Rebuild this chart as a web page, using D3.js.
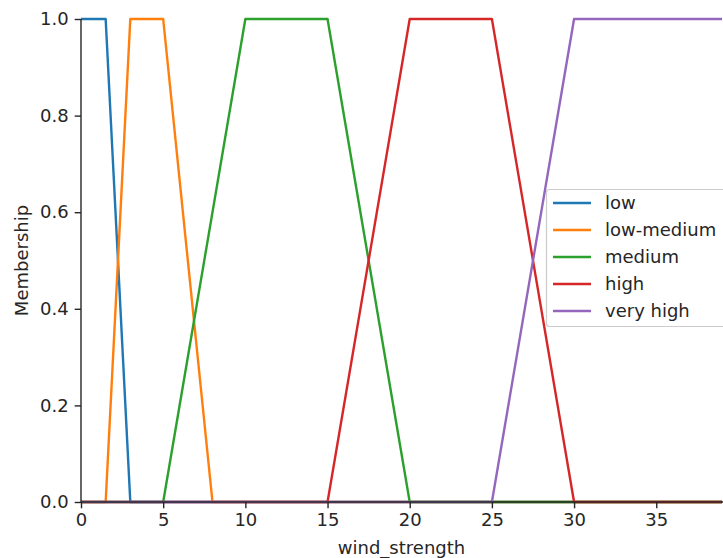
<!DOCTYPE html>
<html>
<head>
<meta charset="utf-8">
<script src="https://cdn.jsdelivr.net/npm/d3@7"></script>
<style>
  html, body { margin: 0; padding: 0; background: #fff; overflow: hidden; }
  text { font-family: "DejaVu Sans", sans-serif; }
</style>
</head>
<body>
<svg id="chart" width="723" height="558"></svg>
<script>
// Fuzzy membership functions for wind strength (breakpoints of each trapezoid)
const categories = ["low", "low-medium", "medium", "high", "very high"];
const colors = ["#1f77b4", "#ff7f0e", "#2ca02c", "#d62728", "#9467bd"];

const lowX = [0, 1.5, 3, 39];
const lowY = [1, 1, 0, 0];
const lowMediumX = [0, 1.5, 3, 5, 8, 39];
const lowMediumY = [0, 0, 1, 1, 0, 0];
const mediumX = [0, 5, 10, 15, 20, 39];
const mediumY = [0, 0, 1, 1, 0, 0];
const highX = [0, 15, 20, 25, 30, 39];
const highY = [0, 0, 1, 1, 0, 0];
const veryHighX = [0, 25, 30, 39];
const veryHighY = [0, 0, 1, 1];

const xTicks = [0, 5, 10, 15, 20, 25, 30, 35];
const yTicks = [0, 0.2, 0.4, 0.6, 0.8, 1.0];

const seriesX = [lowX, lowMediumX, mediumX, highX, veryHighX];
const seriesY = [lowY, lowMediumY, mediumY, highY, veryHighY];

const svg = d3.select("#chart");
const plotLeft = 81, plotRight = 722, plotTop = 19, plotBottom = 502;
const fs = 18;
const ink = "#262626";

const x = d3.scaleLinear().domain([0, 39]).range([plotLeft, plotRight]);
const y = d3.scaleLinear().domain([0, 1]).range([plotBottom, plotTop]);

// membership curves (drawn beneath the spines)
const line = d3.line().x(d => x(d[0])).y(d => y(d[1]));
categories.forEach((c, i) => {
  const pts = seriesX[i].map((v, j) => [v, seriesY[i][j]]);
  svg.append("path")
    .datum(pts)
    .attr("d", line)
    .attr("fill", "none")
    .attr("stroke", colors[i])
    .attr("stroke-width", 2.4)
    .attr("stroke-linejoin", "round");
});

// axes
const xAxis = svg.append("g")
  .attr("transform", `translate(0,${plotBottom})`)
  .call(d3.axisBottom(x).tickValues(xTicks).tickFormat(d3.format("d")).tickSize(6.3).tickPadding(5));
const yAxis = svg.append("g")
  .attr("transform", `translate(${plotLeft},0)`)
  .call(d3.axisLeft(y).tickValues(yTicks).tickFormat(d3.format(".1f")).tickSize(6.3).tickPadding(6));

[xAxis, yAxis].forEach(g => {
  g.select(".domain").attr("stroke", ink).attr("stroke-width", 1.4);
  g.selectAll(".tick line").attr("stroke", ink).attr("stroke-width", 1.4);
  g.selectAll(".tick text").attr("font-size", fs).attr("fill", ink)
    .attr("font-family", "DejaVu Sans, sans-serif");
});
xAxis.select(".domain").attr("d", `M${plotLeft},0H${plotRight + 5}`);
yAxis.select(".domain").attr("d", `M0,${plotBottom}V${plotTop}`);

// axis labels
svg.append("text")
  .attr("x", (plotLeft + plotRight) / 2)
  .attr("y", 554)
  .attr("text-anchor", "middle")
  .attr("font-size", fs)
  .attr("fill", ink)
  .text("wind_strength");
svg.append("text")
  .attr("transform", `translate(28,${(plotTop + plotBottom) / 2}) rotate(-90)`)
  .attr("text-anchor", "middle")
  .attr("font-size", fs)
  .attr("fill", ink)
  .text("Membership");

// legend
const lg = svg.append("g");
lg.append("rect")
  .attr("x", 546.5).attr("y", 189.5)
  .attr("width", 185).attr("height", 137)
  .attr("rx", 3)
  .attr("fill", "#fff").attr("fill-opacity", 0.8)
  .attr("stroke", "#cccccc").attr("stroke-width", 1.2);
categories.forEach((c, i) => {
  const yy = 203 + i * 27;
  lg.append("line")
    .attr("x1", 553).attr("x2", 591)
    .attr("y1", yy).attr("y2", yy)
    .attr("stroke", colors[i]).attr("stroke-width", 2.4);
  lg.append("text")
    .attr("x", 605).attr("y", yy)
    .attr("dy", "0.35em")
    .attr("font-size", fs)
    .attr("fill", ink)
    .text(c);
});
</script>
</body>
</html>
